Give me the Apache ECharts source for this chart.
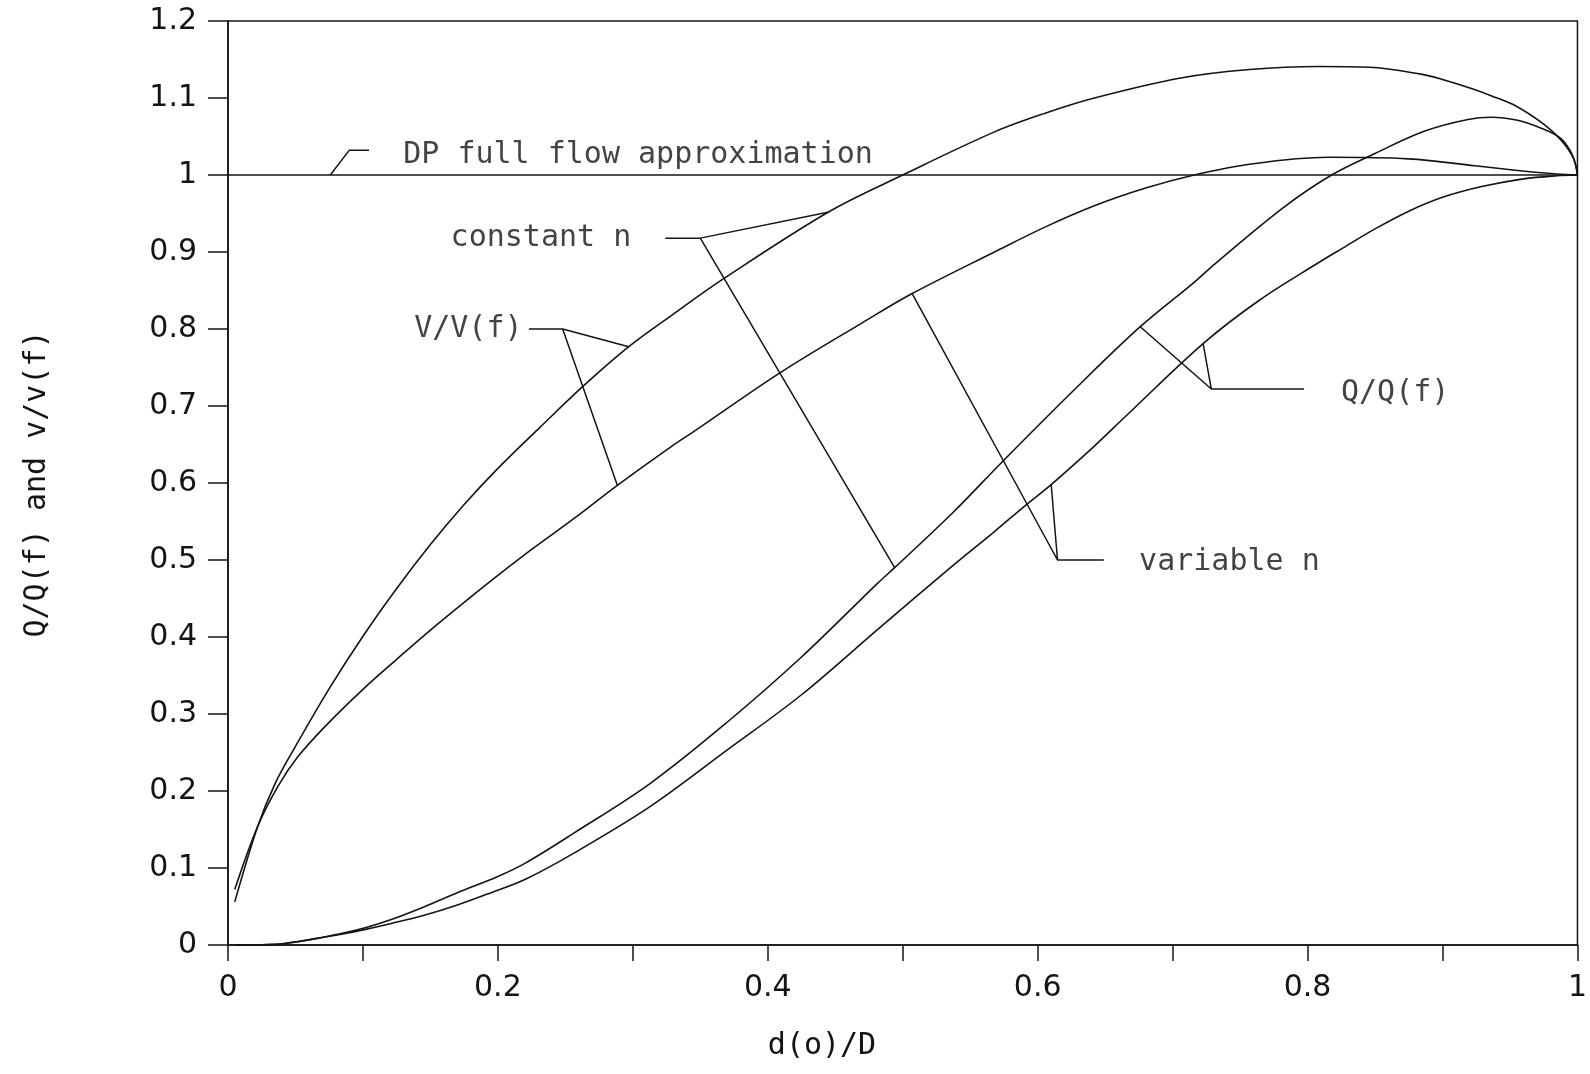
<!DOCTYPE html>
<html><head><meta charset="utf-8">
<script src="https://cdn.jsdelivr.net/npm/echarts/dist/echarts.min.js"></script>
<style>html,body{margin:0;padding:0;background:#fff}#c{width:1590px;height:1074px}</style>
</head><body><div id="c"></div>
<script>
// V/V(f), constant n
const vConstN = [[0.005,0.056],[0.022,0.154],[0.035,0.21],[0.05,0.258],[0.075,0.333],[0.1,0.401],[0.125,0.463],[0.15,0.52],[0.175,0.572],[0.2,0.619],[0.231,0.672],[0.264,0.727],[0.297,0.777],[0.329,0.818],[0.367,0.865],[0.445,0.952],[0.5,1.0],[0.568,1.056],[0.605,1.08],[0.642,1.1],[0.706,1.126],[0.757,1.137],[0.808,1.141],[0.846,1.14],[0.884,1.131],[0.9,1.124],[0.922,1.112],[0.936,1.103],[0.955,1.089],[0.975,1.066],[0.988,1.045],[0.997,1.022],[1.0,1.0]];
// V/V(f), variable n
const vVarN = [[0.005,0.072],[0.022,0.154],[0.037,0.206],[0.052,0.245],[0.072,0.284],[0.1,0.332],[0.125,0.371],[0.15,0.409],[0.175,0.445],[0.2,0.48],[0.226,0.515],[0.258,0.556],[0.2885,0.597],[0.329,0.648],[0.347,0.669],[0.409,0.743],[0.47,0.808],[0.507,0.846],[0.568,0.9],[0.605,0.932],[0.642,0.96],[0.68,0.983],[0.716,1.0],[0.757,1.014],[0.815,1.023],[0.875,1.021],[0.924,1.012],[0.973,1.003],[1.0,1.0]];
// Q/Q(f), constant n
const qConstN = [[0.005,0],[0.03,0.0005],[0.042,0.002],[0.064,0.008],[0.084,0.015],[0.101,0.022],[0.121,0.033],[0.146,0.05],[0.17,0.068],[0.2,0.089],[0.22,0.106],[0.256,0.145],[0.313,0.21],[0.369,0.288],[0.425,0.374],[0.4815,0.47],[0.494,0.49],[0.538,0.563],[0.574,0.628],[0.6294,0.725],[0.676,0.803],[0.7155,0.86],[0.7316,0.885],[0.7823,0.958],[0.8178,1.0],[0.85,1.028],[0.8869,1.057],[0.9188,1.072],[0.936,1.075],[0.9556,1.071],[0.9727,1.061],[0.9874,1.048],[0.9948,1.031],[0.9985,1.014],[1.0,1.0]];
// Q/Q(f), variable n
const qVarN = [[0.005,0],[0.03,0.0005],[0.042,0.002],[0.064,0.008],[0.084,0.014],[0.101,0.02],[0.121,0.028],[0.146,0.039],[0.17,0.052],[0.195,0.068],[0.22,0.085],[0.256,0.119],[0.313,0.18],[0.369,0.252],[0.425,0.325],[0.4815,0.41],[0.538,0.494],[0.568,0.537],[0.591,0.571],[0.61,0.598],[0.642,0.648],[0.666,0.688],[0.7226,0.781],[0.764,0.837],[0.808,0.886],[0.826,0.905],[0.85,0.93],[0.875,0.953],[0.9,0.971],[0.929,0.985],[0.96,0.995],[0.985,0.999],[1.0,1.0]];
// DP full flow approximation
const fullFlow = [[0,1],[1,1]];
// leader lines (annotations)
const leaderDP = [[0.0758,1.0],[0.0898,1.032],[0.1045,1.032]];
const leaderConstN = [[0.324,0.918],[0.35,0.918],[0.4454,0.952],[0.35,0.918],[0.494,0.49]];
const leaderVV = [[0.223,0.8],[0.248,0.8],[0.297,0.777],[0.248,0.8],[0.2885,0.597]];
const leaderVarN = [[0.649,0.5],[0.6147,0.5],[0.507,0.846],[0.6147,0.5],[0.61,0.598]];
const leaderQQ = [[0.7974,0.722],[0.7287,0.722],[0.676,0.803],[0.7287,0.722],[0.7226,0.781]];
const annoText = ['DP full flow approximation','constant n','V/V(f)','variable n','Q/Q(f)'];
const annoPos = [[0.1295,1.026],[0.1646,0.918],[0.1376,0.80],[0.6748,0.497],[0.8244,0.716]];
const xTickLabels = ['0','0.2','0.4','0.6','0.8','1'];
const yName = 'Q/Q(f) and v/v(f)';
const xName = 'd(o)/D';

const INK = '#141414';
const MONO = "'DejaVu Sans Mono', monospace";
const SANS = "'DejaVu Sans', sans-serif";
const chart = echarts.init(document.getElementById('c'));
function curve(d){return {type:'line',data:d,showSymbol:false,symbol:'none',smooth:0.35,lineStyle:{color:INK,width:1.6},silent:true,z:3};}
function leader(d){return {type:'line',data:d,showSymbol:false,symbol:'none',lineStyle:{color:INK,width:1.5},silent:true,z:3};}
chart.setOption({
  animation:false,
  backgroundColor:'#fff',
  grid:{left:228,right:3,top:21,bottom:129,show:true,borderColor:INK,borderWidth:1.5,backgroundColor:'transparent'},
  xAxis:{type:'value',min:0,max:1,interval:0.1,
    axisLine:{lineStyle:{color:INK,width:1.6}},
    axisTick:{show:true,inside:false,length:16,lineStyle:{color:INK,width:1.5}},
    splitLine:{show:false},
    axisLabel:{margin:28,color:INK,fontFamily:SANS,fontSize:30,
      formatter:function(v){const k=Math.round(v*10);return k%2===0?xTickLabels[k/2]:'';}}},
  yAxis:{type:'value',min:0,max:1.2,interval:0.1,
    axisLine:{lineStyle:{color:INK,width:1.6}},
    axisTick:{show:true,inside:false,length:20,lineStyle:{color:INK,width:1.5}},
    splitLine:{show:false},
    axisLabel:{margin:31,color:INK,fontFamily:SANS,fontSize:30,
      formatter:function(v){return String(Math.round(v*10)/10);}}},
  graphic:[
    {type:'text',x:37,y:484,rotation:Math.PI/2,style:{text:yName,fill:INK,font:"30px "+MONO,textAlign:'center',textVerticalAlign:'middle'}},
    {type:'text',x:822,y:1046,style:{text:xName,fill:INK,font:"30px "+MONO,textAlign:'center',textVerticalAlign:'middle'}}
  ],
  series:[
    curve(vConstN),curve(vVarN),curve(qConstN),curve(qVarN),
    {type:'line',data:fullFlow,showSymbol:false,symbol:'none',lineStyle:{color:INK,width:1.6},silent:true,z:3},
    leader(leaderDP),leader(leaderConstN),leader(leaderVV),leader(leaderVarN),leader(leaderQQ),
    {type:'scatter',symbolSize:1,itemStyle:{color:'rgba(0,0,0,0)'},silent:true,z:4,
     data:annoText.map(function(t,i){return {name:t,value:annoPos[i]};}),
     label:{show:true,position:'right',distance:0,formatter:'{b}',color:INK,fontFamily:MONO,fontSize:30}}
  ]
});
</script></body></html>
